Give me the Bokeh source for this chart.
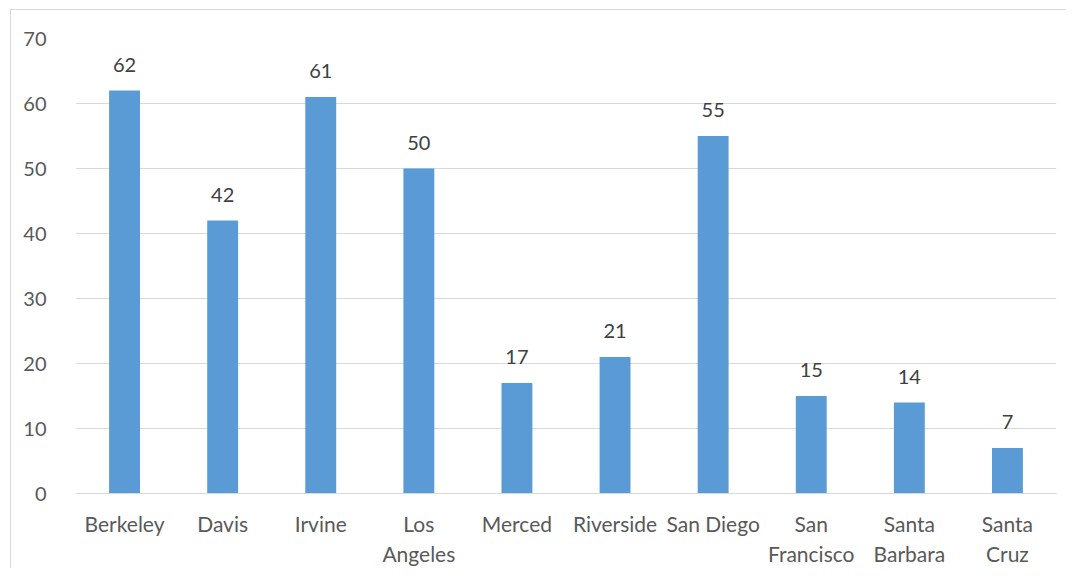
from bokeh.plotting import figure
from bokeh.models import ColumnDataSource, LabelSet, FixedTicker
from bokeh.core.properties import value
from bokeh.embed import file_html
from bokeh.resources import INLINE

campuses = ["Berkeley", "Davis", "Irvine", "Los\nAngeles", "Merced", "Riverside",
            "San Diego", "San\nFrancisco", "Santa\nBarbara", "Santa\nCruz"]
values = [62, 42, 61, 50, 17, 21, 55, 15, 14, 7]
y_ticks = [0, 10, 20, 30, 40, 50, 60, 70]

FONT = "Lato"
src = ColumnDataSource(dict(x=campuses, y=values, lab=[str(v) for v in values]))

p = figure(x_range=campuses, y_range=(0, 70), frame_width=981, frame_height=455,
           output_backend="svg", toolbar_location=None,
           min_border_left=75, min_border_right=10, min_border_top=38, min_border_bottom=10)
p.outline_line_color = None
p.background_fill_color = "white"
p.border_fill_alpha = 0
# thin grey chart-area border starting at (10, 9), as in the cropped reference
p.styles = {"background-color": "white",
            "box-shadow": "inset 10px 9px 0 0 white, inset 11px 10px 0 0 #d9d9d9"}

p.vbar(x="x", top="y", width=0.315, source=src, fill_color="#5b9bd5", line_color=None)

labels = LabelSet(x="x", y="y", text="lab", source=src, text_align="center",
                  text_baseline="alphabetic", y_offset=19, text_font=value(FONT),
                  text_font_size="20px", text_color="#404040")
p.add_layout(labels)

p.xgrid.grid_line_color = None
p.ygrid.grid_line_color = "#d9d9d9"
p.ygrid.grid_line_width = 1
p.yaxis.ticker = FixedTicker(ticks=y_ticks)

for ax in (p.xaxis, p.yaxis):
    ax.axis_line_color = None
    ax.major_tick_line_color = None
    ax.minor_tick_line_color = None
    ax.major_label_text_font = FONT
    ax.major_label_text_color = "#595959"

p.xaxis.major_label_text_font_size = "21px"
p.yaxis.major_label_text_font_size = "20px"
p.xaxis.axis_line_color = "#d9d9d9"
p.xaxis.major_label_standoff = 11
p.yaxis.major_label_standoff = 23
p.x_range.range_padding = 0

open("out.html", "w").write(file_html(p, INLINE))
